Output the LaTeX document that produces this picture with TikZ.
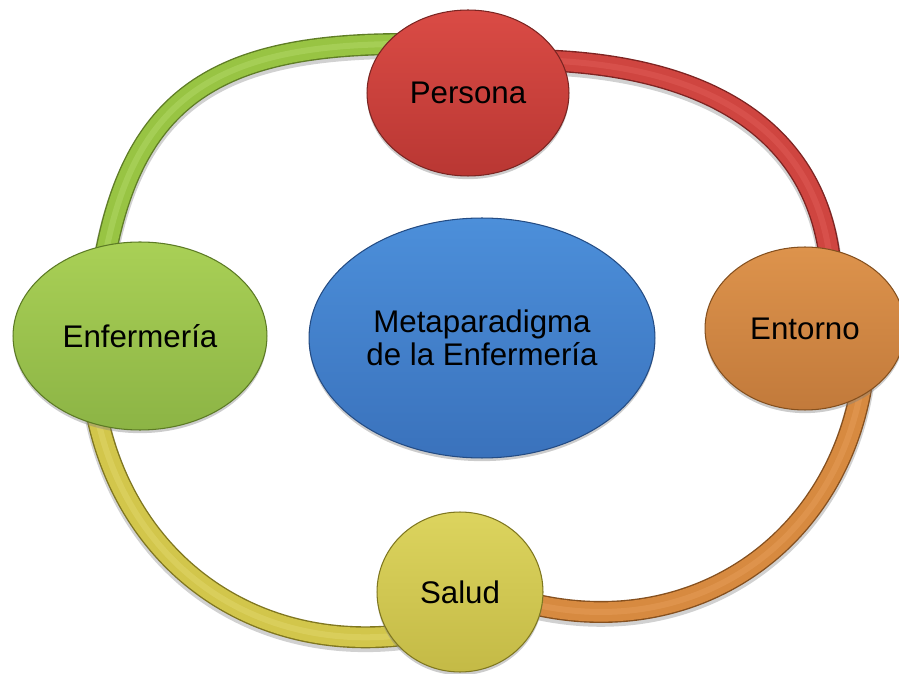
\documentclass[tikz,border=0pt]{standalone}
\usepackage{fontspec}
\setmainfont{Liberation Sans}
\usetikzlibrary{shapes.geometric,shadows}
\pgfdeclarelayer{bg}
\pgfsetlayers{bg,main}

% node fills: top / bottom of the shading and rim
\definecolor{redTop}{HTML}{DA4B45}    \definecolor{redBot}{HTML}{B93733}    \definecolor{redEdge}{HTML}{7A2522}
\definecolor{orangeTop}{HTML}{DD934C} \definecolor{orangeBot}{HTML}{C27A3B} \definecolor{orangeEdge}{HTML}{84501F}
\definecolor{yellowTop}{HTML}{DCD45E} \definecolor{yellowBot}{HTML}{C4BA46} \definecolor{yellowEdge}{HTML}{7F7720}
\definecolor{greenTop}{HTML}{A9D056}  \definecolor{greenBot}{HTML}{8CB445}  \definecolor{greenEdge}{HTML}{5C7A25}
\definecolor{blueTop}{HTML}{4C8FDA}   \definecolor{blueBot}{HTML}{3A72BC}   \definecolor{blueEdge}{HTML}{244C84}
% ring segments: body, rim and highlight
\definecolor{greenBody}{HTML}{98C443}  \definecolor{greenRim}{HTML}{5F7D26}  \definecolor{greenLight}{HTML}{ABD35E}
\definecolor{redBody}{HTML}{CF4540}    \definecolor{redRim}{HTML}{7E2422}    \definecolor{redLight}{HTML}{DB5650}
\definecolor{orangeBody}{HTML}{D78A40} \definecolor{orangeRim}{HTML}{85501F} \definecolor{orangeLight}{HTML}{E29852}
\definecolor{yellowBody}{HTML}{D2C64B} \definecolor{yellowRim}{HTML}{7F7620} \definecolor{yellowLight}{HTML}{DDD263}

\begin{document}
\begin{tikzpicture}[x=0.02cm,y=0.02cm,
  bubble/.style={ellipse, inner sep=0pt, outer sep=0pt, align=center,
    draw=#1Edge, line width=0.6pt, top color=#1Top, bottom color=#1Bot,
    drop shadow={shadow xshift=0pt, shadow yshift=-1.8pt, opacity=0.4},
    font=\fontsize{17.8}{18.7}\selectfont},
  tube/.style={line width=0.44cm, draw=#1Rim,
    shorten <=-0.35cm, shorten >=-0.35cm,
    preaction={draw=black, opacity=0.18, line width=0.48cm,
      transform canvas={yshift=-1.6pt}},
    postaction={draw=#1Body, line width=0.385cm},
    postaction={draw=#1Light, line width=0.12cm, opacity=0.7}}]
\useasboundingbox (0,0) rectangle (899,673);

\node[bubble=red, minimum width=4.04cm, minimum height=3.32cm] (per) at (468,580) {Persona};
\node[bubble=orange, minimum width=4.0cm, minimum height=3.26cm] (ent) at (805,344.5) {Entorno};
\node[bubble=yellow, minimum width=3.32cm, minimum height=3.2cm] (sal) at (460,81) {Salud};
\node[bubble=green, minimum width=5.08cm, minimum height=3.76cm] (enf) at (140,337) {Enfermería};
\node[bubble=blue, minimum width=6.92cm, minimum height=4.8cm] (meta) at (482,335)
  {Metaparadigma\\de la Enfermería};

% the ring, one segment between each pair of neighbouring bubbles
\begin{pgfonlayer}{bg}
  \draw[tube=green] (enf.110) to[out=80, in=180, out distance=3cm, in distance=3.4cm] (per.149);
  \draw[tube=red] (per.19.6) to[out=-2, in=95, out distance=3.2cm, in distance=2.2cm] (ent.73.7);
  \draw[tube=orange] (ent.-51.2) to[out=-98.5, in=-14.6, out distance=3.04cm, in distance=3.04cm] (sal.-10.2);
  \draw[tube=yellow] (enf.-115.3) to[out=-79.5, in=187.7, out distance=2.79cm, in distance=2.79cm] (sal.-147.1);
\end{pgfonlayer}
\end{tikzpicture}
\end{document}
